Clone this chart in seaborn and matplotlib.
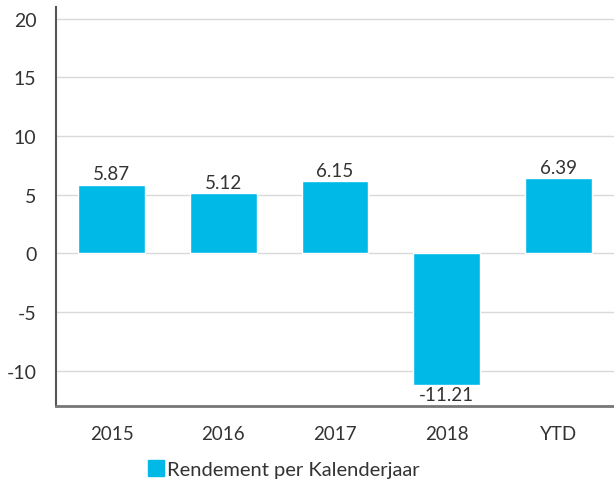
#!/usr/bin/env python3

import seaborn as sns
import matplotlib.pyplot as plt
import matplotlib.patches as mpatches
import pandas

years = ["2015", "2016", "2017", "2018", "YTD"]
returns = [5.87, 5.12, 6.15, -11.21, 6.39]
labels = ["5.87", "5.12", "6.15", "-11.21", "6.39"]
yticks = [-10, -5, 0, 5, 10, 15, 20]
series_name = "Rendement per Kalenderjaar"

bar_color = "#00b9e7"
text_color = "#333333"

sns.set_style("white")
plt.rcParams["font.family"] = ["Lato", "DejaVu Sans"]

df = pandas.DataFrame({"year": years, "value": returns})

fig = plt.figure(figsize=(6.14, 4.81), dpi=100)
ax = fig.add_axes([56 / 614, 1 - 407 / 481, 558 / 614, 399 / 481])

sns.barplot(data=df, x="year", y="value", color=bar_color, width=0.6,
            saturation=1, ax=ax, zorder=3)

# Value labels above/below each bar
for i, (v, lab) in enumerate(zip(returns, labels)):
    if v >= 0:
        ax.text(i, v + 0.2, lab, ha="center", va="bottom", fontsize=13.5, color=text_color)
    else:
        ax.text(i, v - 0.1, lab, ha="center", va="top", fontsize=13.5, color=text_color)

ax.set_ylim(-13, 21)
ax.set_xlim(-0.5, 4.5)
ax.set_yticks(yticks)
ax.set_yticklabels([str(t) for t in yticks], fontsize=14, color=text_color)
ax.tick_params(axis="x", labelsize=13.5, labelcolor=text_color, length=0, pad=14)
ax.tick_params(axis="y", length=0, pad=14)
ax.set_xlabel("")
ax.set_ylabel("")
ax.yaxis.grid(True, color="#d9d9d9", linewidth=1, zorder=0)

sns.despine(ax=ax, top=True, right=True)
ax.spines["left"].set_color("#555555")
ax.spines["left"].set_linewidth(1.5)
ax.spines["bottom"].set_color("#777777")
ax.spines["bottom"].set_linewidth(2)

handle = mpatches.Patch(color=bar_color, label=series_name)
fig.legend(handles=[handle], loc="center left", bbox_to_anchor=(130 / 614, 1 - 470 / 481),
           frameon=False, fontsize=14.5, handlelength=0.8, handleheight=0.8,
           handletextpad=0.15, labelcolor=text_color)

fig.savefig("out.png", dpi=100)
